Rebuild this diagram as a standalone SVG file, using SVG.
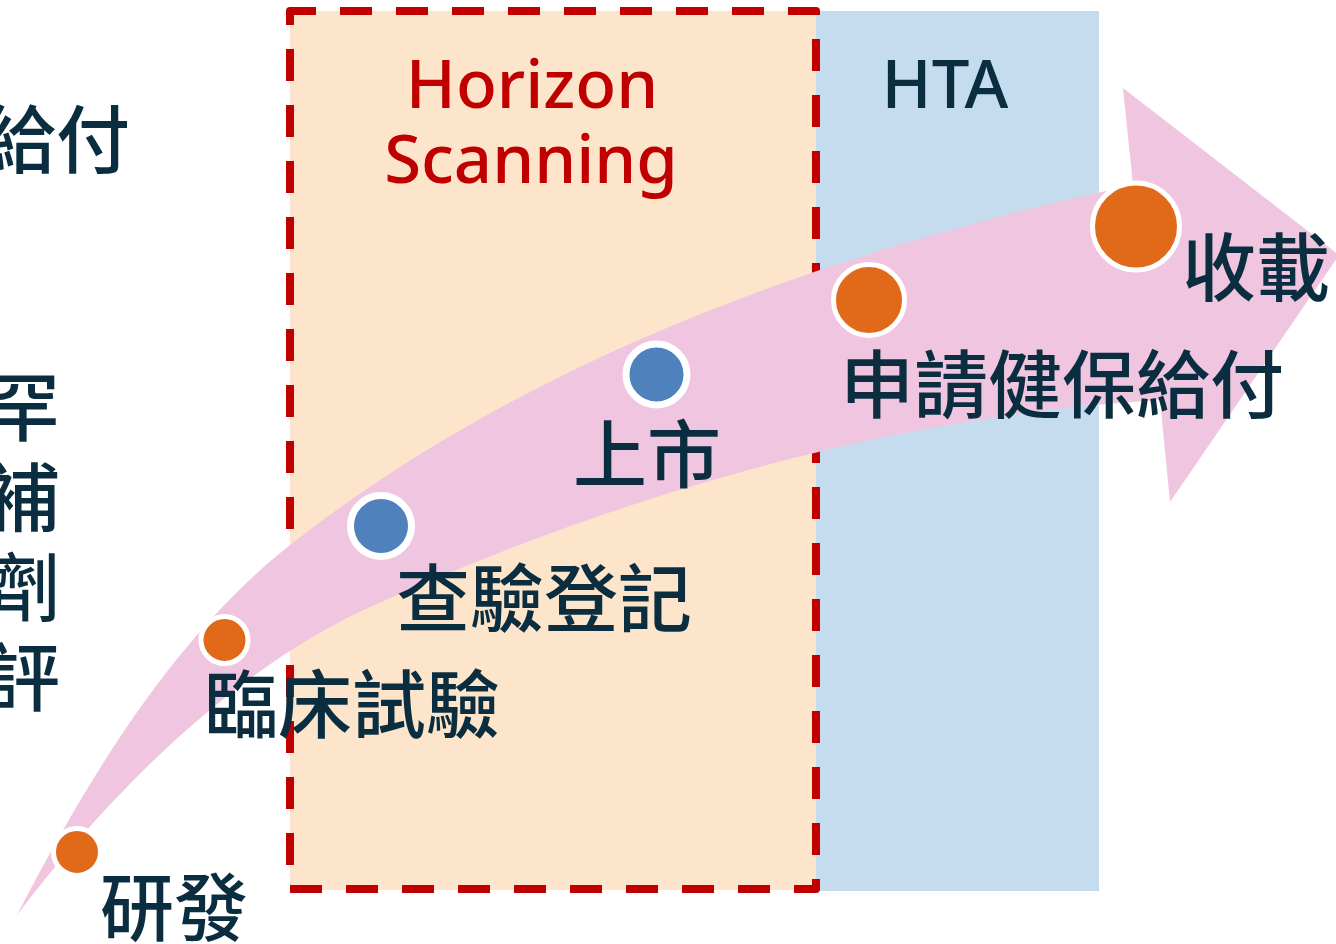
<svg xmlns="http://www.w3.org/2000/svg" width="1336" height="944" viewBox="0 0 1336 944">
<style>
.cjk{font-family:"Noto Sans CJK TC","Noto Sans CJK SC",sans-serif;font-weight:500;font-size:74px;fill:#0A2D40}
.en{font-family:"Noto Sans","Liberation Sans",sans-serif;font-size:67px;font-weight:500}
.dot{stroke:#FFFFFF}
.org{fill:#E0691A}
.blu{fill:#4F81BD}
</style>
<rect width="1336" height="944" fill="#FFFFFF"/>
<g id="hta-zone">
<rect x="816" y="11" width="283" height="880" fill="#C5DCEF"/>
</g>
<g id="horizon-zone">
<rect x="290" y="11" width="526" height="879" fill="#FCE5CA"/>
<path d="M290,11 H816 V889 H290 Z" fill="none" stroke="#C00000" stroke-width="8" stroke-dasharray="32 24" stroke-dashoffset="6" stroke-linejoin="round"/>
</g>
<g id="connectors">
<path id="arrow" fill="#F0C5DF" d="M17,915 C86,782 172,638 290,545 C527,359 830,250 1133,185 L1123,88 L1339,255 L1170,502 L1160,400 C890,416 616,496 370,607 C233,669 107,796 17,915 Z"/>
</g>
<g id="labels-left">
<text class="cjk" x="130" y="167" text-anchor="end">給付</text>
<text class="cjk" x="60" y="435" text-anchor="end">罕</text>
<text class="cjk" x="60" y="525" text-anchor="end">補</text>
<text class="cjk" x="60" y="615" text-anchor="end">劑</text>
<text class="cjk" x="60" y="705" text-anchor="end">評</text>
</g>
<g id="title-horizon">
<text class="en" x="532" y="108" text-anchor="middle" fill="#C00000">Horizon</text>
<text class="en" x="531" y="183" text-anchor="middle" fill="#C00000">Scanning</text>
</g>
<g id="title-hta">
<text class="en" x="945" y="108" text-anchor="middle" fill="#0A2D40">HTA</text>
</g>
<g id="node-rd">
<circle class="dot org" cx="77" cy="852" r="23.5" stroke-width="5"/>
<text class="cjk" x="174" y="935" text-anchor="middle">研發</text>
</g>
<g id="node-trial">
<circle class="dot org" cx="224.5" cy="640" r="23.5" stroke-width="5"/>
<text class="cjk" x="352" y="732" text-anchor="middle">臨床試驗</text>
</g>
<g id="node-registration">
<circle class="dot blu" cx="381" cy="526" r="30.5" stroke-width="7"/>
<text class="cjk" x="544" y="626" text-anchor="middle">查驗登記</text>
</g>
<g id="node-launch">
<circle class="dot blu" cx="656.5" cy="374.5" r="30.5" stroke-width="7"/>
<text class="cjk" x="647" y="482" text-anchor="middle">上市</text>
</g>
<g id="node-apply">
<circle class="dot org" cx="869" cy="300" r="35.5" stroke-width="5"/>
<text class="cjk" x="1062" y="412" text-anchor="middle">申請健保給付</text>
</g>
<g id="node-listed">
<circle class="dot org" cx="1136" cy="226.5" r="43.5" stroke-width="5"/>
<text class="cjk" x="1256" y="295" text-anchor="middle">收載</text>
</g>
</svg>
